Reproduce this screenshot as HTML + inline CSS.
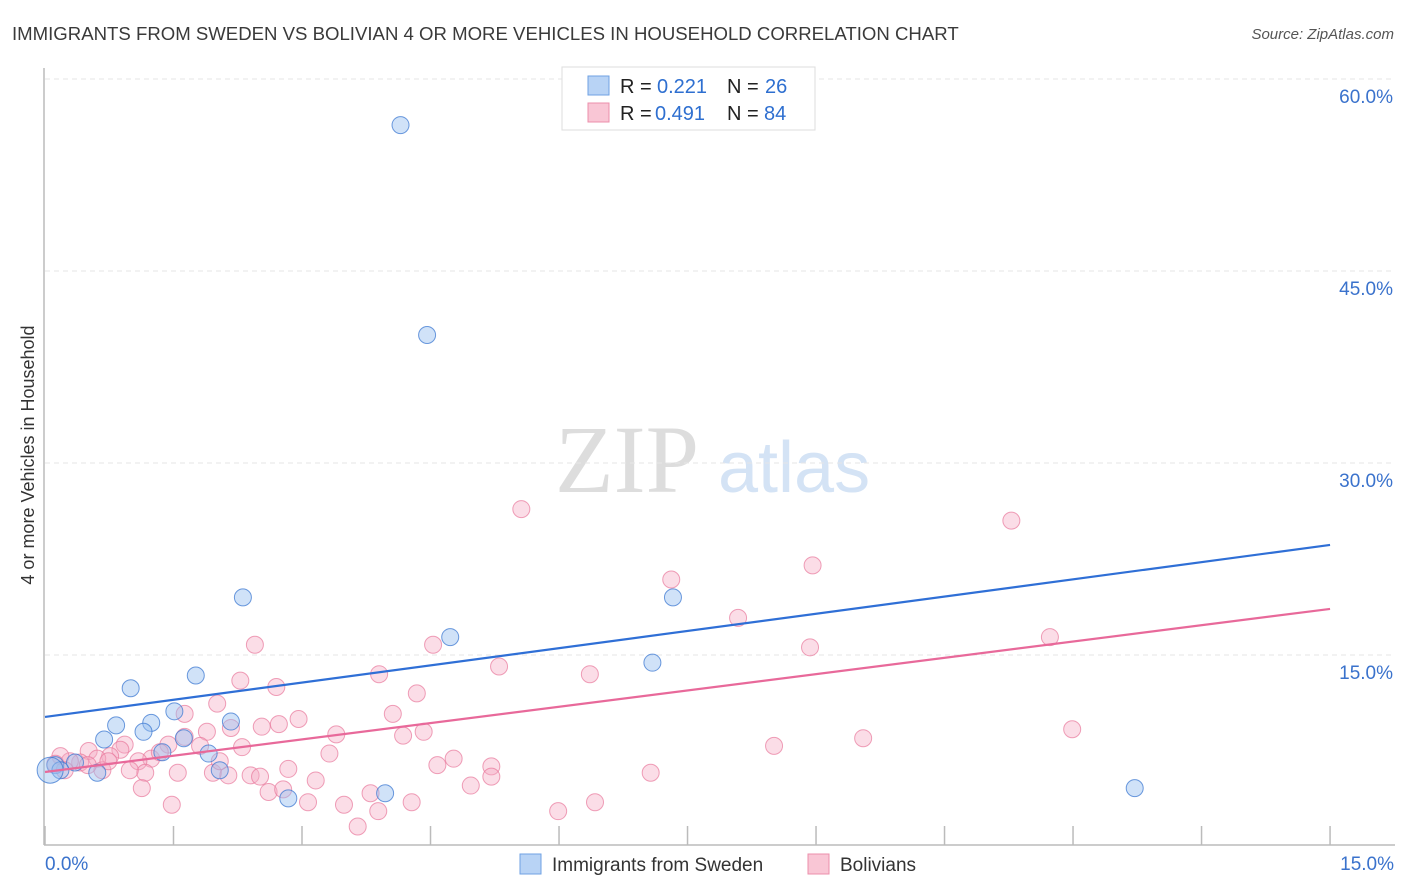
<!DOCTYPE html>
<html><head><meta charset="utf-8"><style>
html,body{margin:0;padding:0;background:#fff;width:1406px;height:892px;overflow:hidden;font-family:"Liberation Sans",sans-serif}
</style></head><body>
<svg width="1406" height="892">
<text x="12" y="40" font-size="18.6" fill="#3a3a3a">IMMIGRANTS FROM SWEDEN VS BOLIVIAN 4 OR MORE VEHICLES IN HOUSEHOLD CORRELATION CHART</text>
<text x="1394" y="39" font-size="15" fill="#555" font-style="italic" text-anchor="end">Source: ZipAtlas.com</text>
<text x="555" y="492" font-size="96" fill="#ddd" font-family="Liberation Serif,serif">ZIP</text>
<text x="718" y="492" font-size="72" fill="#d4e3f5">atlas</text>
<text transform="translate(34,455) rotate(-90)" font-size="18" fill="#333" text-anchor="middle">4 or more Vehicles in Household</text>
<g id="grid"></g><g id="axes"></g><g id="pts"></g><g id="lines"></g>
<g>
<rect x="562" y="67" width="253" height="63" fill="#fff" stroke="#ddd"/>
<rect x="588" y="76" width="21" height="19" fill="#b8d3f5" stroke="#6fa2e3"/>
<rect x="588" y="103" width="21" height="19" fill="#f9c6d5" stroke="#ec8fab"/>
<text x="620" y="93" font-size="20" fill="#222">R =</text><text x="657" y="93" font-size="20" fill="#2e6fd0">0.221</text>
<text x="727" y="93" font-size="20" fill="#222">N =</text><text x="765" y="93" font-size="20" fill="#2e6fd0">26</text>
<text x="620" y="120" font-size="20" fill="#222">R =</text><text x="655" y="120" font-size="20" fill="#2e6fd0">0.491</text>
<text x="727" y="120" font-size="20" fill="#222">N =</text><text x="764" y="120" font-size="20" fill="#2e6fd0">84</text>
</g>
<g>
<rect x="520" y="854" width="21" height="20" fill="#b8d3f5" stroke="#6fa2e3"/>
<text x="552" y="871" font-size="19" fill="#333">Immigrants from Sweden</text>
<rect x="808" y="854" width="21" height="20" fill="#f9c6d5" stroke="#ec8fab"/>
<text x="840" y="871" font-size="19" fill="#333">Bolivians</text>
</g>
<text x="45" y="870" font-size="19" fill="#3a72cc">0.0%</text>
<text x="1394" y="870" font-size="19" fill="#3a72cc" text-anchor="end">15.0%</text>
</svg>
<script>
const yTicks=[15,30,45,60];
const yTickLabels=["15.0%","30.0%","45.0%","60.0%"];
const xTicks=[0,1.5,3,4.5,6,7.5,9,10.5,12,13.5,15];
const swedenX=[4.15,4.46,2.31,7.33,4.73,7.09,1.0,1.76,0.83,1.24,1.51,2.17,0.69,1.15,1.62,1.91,1.37,0.61,2.04,2.84,3.97,12.72,0.12,0.35,0.18,0.06];
const swedenY=[56.4,40.0,19.5,19.5,16.4,14.4,12.4,13.4,9.5,9.7,10.6,9.8,8.4,9.0,8.5,7.3,7.4,5.8,6.0,3.8,4.2,4.6,6.4,6.6,6.0,6.0];
const bolX=[5.56,11.28,8.96,7.31,8.09,11.73,8.93,2.45,4.53,5.3,6.36,3.9,2.28,2.7,4.34,2.01,1.63,2.96,2.73,4.06,2.53,2.17,1.89,11.99,3.4,4.18,4.42,1.63,1.44,2.3,0.93,0.88,9.55,8.51,3.32,4.77,4.58,5.21,1.24,1.09,0.76,0.51,0.61,0.41,0.29,0.18,0.12,0.23,0.67,1.17,1.55,1.96,2.14,2.4,2.51,2.84,3.16,3.8,7.07,4.97,5.21,2.61,2.78,1.13,1.48,3.07,3.49,4.28,3.89,6.42,5.99,3.65,2.04,1.34,1.81,0.74,0.99,0.5];
const bolY=[26.4,25.5,22.0,20.9,17.9,16.4,15.6,15.8,15.8,14.1,13.5,13.5,13.0,12.5,12.0,11.2,10.4,10.0,9.6,10.4,9.4,9.3,9.0,9.2,8.8,8.7,9.0,8.6,8.0,7.8,8.0,7.6,8.5,7.9,7.3,6.9,6.4,6.3,6.9,6.7,7.1,7.5,6.9,6.6,6.7,7.1,6.5,6.0,6.0,5.8,5.8,5.8,5.6,5.6,5.5,6.1,5.2,4.2,5.8,4.8,5.5,4.3,4.5,4.6,3.3,3.5,3.3,3.5,2.8,3.5,2.8,1.6,6.7,7.4,7.9,6.7,6.0,6.4];
const swedenLine=[10.16,23.6];
const bolLine=[5.86,18.6];
const NS='http://www.w3.org/2000/svg';
const sx=v=>45+v*85.67, sy=v=>847-v*12.8;
function mk(t,a,p){const e=document.createElementNS(NS,t);for(const k in a)e.setAttribute(k,a[k]);p.appendChild(e);return e;}
const grid=document.getElementById('grid'),axes=document.getElementById('axes'),pts=document.getElementById('pts'),lines=document.getElementById('lines');
yTicks.forEach((v,i)=>{
 const l=mk('line',{x1:45,x2:1395,y1:sy(v),y2:sy(v),stroke:'#e6e6e6','stroke-dasharray':'5,4'},grid);
 
 
 const t=mk('text',{x:1393,y:sy(v)+24,'font-size':19,fill:'#3a72cc','text-anchor':'end'},grid);
 t.textContent=yTickLabels[i];
 
 
});
const xa=mk('line',{x1:44,x2:1395,y1:845,y2:845,stroke:'#bbb','stroke-width':1.5},axes);


const ya=mk('line',{x1:44,x2:44,y1:68,y2:845,stroke:'#bbb','stroke-width':1.5},axes);


xTicks.forEach(v=>{
 const t=mk('line',{x1:sx(v),x2:sx(v),y1:826,y2:845,stroke:'#bbb','stroke-width':1.5},axes);
 
 
});
bolX.forEach((x,i)=>{
 const c=mk('circle',{cx:sx(x),cy:sy(bolY[i]),r:8.5,fill:'rgba(246,170,195,0.4)',stroke:'rgba(232,120,155,0.7)','stroke-width':1},pts);
 
 
});
swedenX.forEach((x,i)=>{
 const c=mk('circle',{cx:sx(x),cy:sy(swedenY[i]),r:i==swedenX.length-1?13:8.5,fill:'rgba(150,190,240,0.45)',stroke:'rgba(60,120,210,0.75)','stroke-width':1},pts);
 
 
});
const bl=mk('line',{x1:sx(0),y1:sy(swedenLine[0]),x2:sx(15),y2:sy(swedenLine[1]),stroke:'#2f6fd6','stroke-width':2.2},lines);


const pl=mk('line',{x1:sx(0),y1:sy(bolLine[0]),x2:sx(15),y2:sy(bolLine[1]),stroke:'#e8699a','stroke-width':2.2},lines);


</script>
</body></html>
